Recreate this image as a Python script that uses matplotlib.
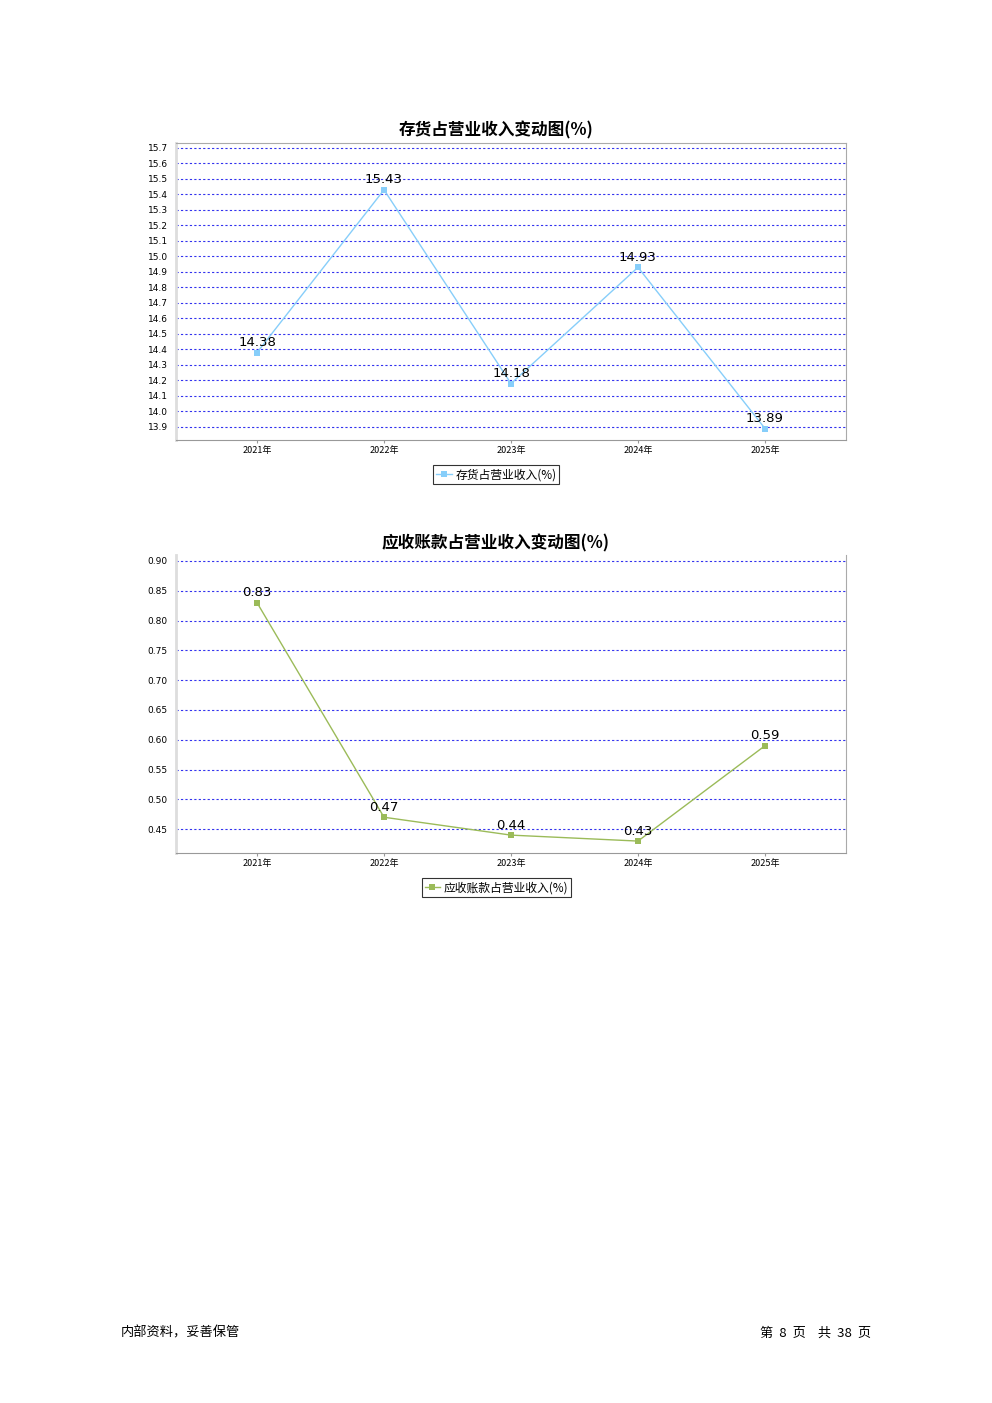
import matplotlib
matplotlib.use('Agg')
import matplotlib.pyplot as plt
import numpy as np

plt.rcParams['font.family'] = ['Noto Sans CJK SC', 'DejaVu Sans']

# data
years = ['2021年', '2022年', '2023年', '2024年', '2025年']
inventory_ratio = [14.38, 15.43, 14.18, 14.93, 13.89]
receivable_ratio = [0.83, 0.47, 0.44, 0.43, 0.59]
inv_ticks = [13.9, 14.0, 14.1, 14.2, 14.3, 14.4, 14.5, 14.6, 14.7, 14.8,
             14.9, 15.0, 15.1, 15.2, 15.3, 15.4, 15.5, 15.6, 15.7]
rec_ticks = [0.45, 0.50, 0.55, 0.60, 0.65, 0.70, 0.75, 0.80, 0.85, 0.90]

fig = plt.figure(figsize=(9.92, 14.03), dpi=100)


def draw_chart(rect, values, ticks, ylim, tick_fmt, color, title, label, title_y, top_spine=True):
    ax = fig.add_axes(rect)
    x = np.arange(len(years))
    ax.plot(x, values, color=color, linewidth=1, marker='s', markersize=5,
            markeredgewidth=0, label=label, zorder=3)
    for xi, v in zip(x, values):
        ax.annotate(f'{v:.2f}', (xi, v), xytext=(0, 2.5), textcoords='offset points',
                    ha='center', va='bottom', fontsize=9.5, family=['DejaVu Sans'])
    ax.set_xlim(-0.638, len(years) - 1 + 0.638)
    ax.set_ylim(*ylim)
    ax.set_xticks(x)
    ax.set_xticklabels(years, fontsize=6.5)
    ax.set_yticks(ticks)
    ax.set_yticklabels([tick_fmt.format(t) for t in ticks], fontsize=6.5,
                       family=['DejaVu Sans'])
    ax.tick_params(axis='y', length=0, pad=6)
    ax.tick_params(axis='x', length=2, color='#999999', pad=2)
    ax.grid(axis='y', color='#3333ee', linestyle=(0, (2, 2)), linewidth=0.8)
    ax.spines['left'].set_color('#dddddd')
    ax.spines['left'].set_linewidth(2)
    ax.spines['bottom'].set_color('#999999')
    ax.spines['right'].set_color('#aaaaaa')
    ax.spines['top'].set_color('#aaaaaa')
    ax.spines['top'].set_visible(top_spine)
    fig.text(0.5, title_y, title, ha='center', va='center', fontsize=12, fontweight='bold')
    leg = ax.legend(loc='upper center', bbox_to_anchor=(0.478, -0.065), fontsize=8.5,
                    frameon=True, fancybox=False, edgecolor='black', handlelength=1.3,
                    borderpad=0.25, handletextpad=0.3)
    leg.get_frame().set_linewidth(0.8)
    return ax


draw_chart([176 / 992, 1 - 440 / 1403, 670 / 992, 297 / 1403], inventory_ratio,
           inv_ticks, (13.816, 15.732), '{:.1f}', '#87cefa',
           '存货占营业收入变动图(%)', '存货占营业收入(%)', 1 - 130 / 1403)

draw_chart([176 / 992, 1 - 853 / 1403, 670 / 992, 298 / 1403], receivable_ratio,
           rec_ticks, (0.410, 0.910), '{:.2f}', '#9bbb59',
           '应收账款占营业收入变动图(%)', '应收账款占营业收入(%)', 1 - 543 / 1403,
           top_spine=False)

# footer
fig.text(121 / 992, 1 - 1333 / 1403, '内部资料，妥善保管', ha='left', va='center', fontsize=9.5)
fig.text(871 / 992, 1 - 1333 / 1403, '第  8  页    共  38  页', ha='right', va='center',
         fontsize=9.5)

fig.savefig('out.png', dpi=100)
